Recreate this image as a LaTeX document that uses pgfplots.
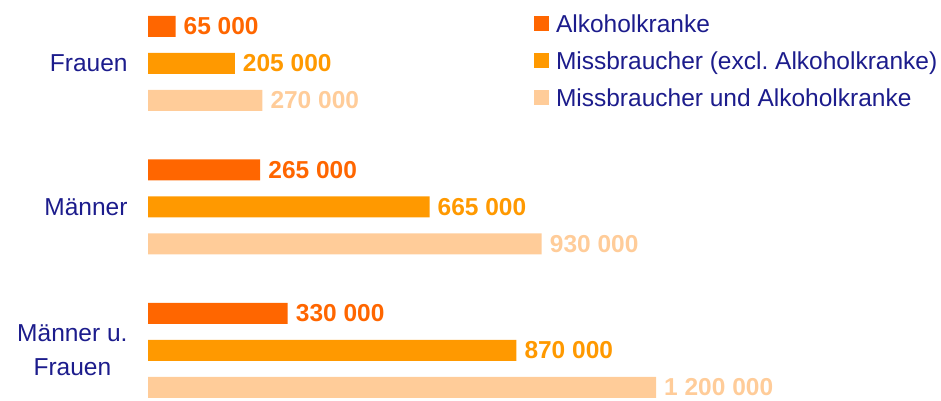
\documentclass[border=0pt]{standalone}
\usepackage{pgfplots}
\pgfplotsset{compat=1.18}
\usepackage{fontspec}
\setmainfont{Liberation Sans}
\frenchspacing
\definecolor{cA}{HTML}{FF6600}
\definecolor{cB}{HTML}{FF9900}
\definecolor{cC}{HTML}{FFCC99}
\definecolor{navy}{HTML}{1C1C8C}
\newcommand{\bigf}{\fontsize{24.5}{29}\selectfont}
\begin{document}
\begin{tikzpicture}
\begin{axis}[
  scale only axis, width=941pt, height=401pt,
  xmin=-349606, xmax=1873228,
  ymin=-0.3519, ymax=2.4425,
  axis line style={draw=none},
  tick style={draw=none},
  clip=false,
  xbar, bar width=21pt,
  xtick=\empty,
  ytick={0,1,2},
  yticklabels={{Männer u.\\Frauen},{Männer},{Frauen}},
  yticklabel style={font=\fontsize{24.5}{34}\selectfont, text=navy, align=center, anchor=east, inner sep=0pt, xshift=132pt},
  point meta=explicit symbolic,
  nodes near coords,
  nodes near coords style={anchor=west, inner sep=0pt, xshift=8pt, font=\bigf\bfseries},
  legend image code/.code={\fill[#1] (0pt,1pt) rectangle (15pt,16pt);},
  legend cell align=left,
  legend style={at={(rel axis cs:0.5675,0.9650)}, anchor=north west, draw=none, fill=none,
    inner sep=0pt, outer sep=0pt, row sep=14pt, column sep=7pt,
    nodes={inner sep=0pt, text height=18pt, text depth=5pt, anchor=base west, font=\bigf, text=navy}},
]
\addplot[fill=cA, draw=none, bar shift=37pt, every node near coord/.append style={text=cA}]
  coordinates {(65000,2) [65 000] (265000,1) [265 000] (330000,0) [330 000]};
\addplot[fill=cB, draw=none, bar shift=0pt, every node near coord/.append style={text=cB}]
  coordinates {(205000,2) [205 000] (665000,1) [665 000] (870000,0) [870 000]};
\addplot[fill=cC, draw=none, bar shift=-37pt, every node near coord/.append style={text=cC}]
  coordinates {(270000,2) [270 000] (930000,1) [930 000] (1200000,0) [1 200 000]};
\legend{Alkoholkranke, Missbraucher (excl. Alkoholkranke), Missbraucher und Alkoholkranke}
\end{axis}
\pgfresetboundingbox
\path[use as bounding box] (current axis.south west) rectangle (current axis.north east);
\end{tikzpicture}
\end{document}
